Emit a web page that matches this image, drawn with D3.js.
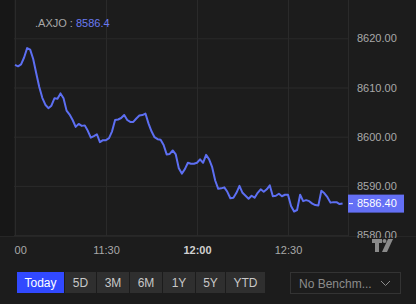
<!DOCTYPE html>
<html>
<head>
<meta charset="utf-8">
<script src="https://cdn.jsdelivr.net/npm/d3@7"></script>
<style>
  html, body { margin: 0; padding: 0; background: #1c1c1c; }
  svg { display: block; font-family: "Liberation Sans", Arial, sans-serif; }
</style>
</head>
<body>
<svg width="416" height="304"></svg>
<script>
// ASX 200 intraday, one point per minute
var times = [
  "11:00","11:01","11:02","11:03","11:04","11:05","11:06","11:07","11:08","11:09",
  "11:10","11:11","11:12","11:13","11:14","11:15","11:16","11:17","11:18","11:19",
  "11:20","11:21","11:22","11:23","11:24","11:25","11:26","11:27","11:28","11:29",
  "11:30","11:31","11:32","11:33","11:34","11:35","11:36","11:37","11:38","11:39",
  "11:40","11:41","11:42","11:43","11:44","11:45","11:46","11:47","11:48","11:49",
  "11:50","11:51","11:52","11:53","11:54","11:55","11:56","11:57","11:58","11:59",
  "12:00","12:01","12:02","12:03","12:04","12:05","12:06","12:07","12:08","12:09",
  "12:10","12:11","12:12","12:13","12:14","12:15","12:16","12:17","12:18","12:19",
  "12:20","12:21","12:22","12:23","12:24","12:25","12:26","12:27","12:28","12:29",
  "12:30","12:31","12:32","12:33","12:34","12:35","12:36","12:37","12:38","12:39",
  "12:40","12:41","12:42","12:43","12:44","12:45","12:46","12:47","12:48"
];

var values = [
  8614.6, 8614.3, 8614.7, 8616.1, 8618.0, 8617.7, 8615.8, 8612.9, 8610.1, 8607.9,
  8606.5, 8605.8, 8606.3, 8607.8, 8607.7, 8608.8, 8607.8, 8605.3, 8604.5, 8603.4,
  8602.0, 8602.6, 8602.2, 8602.3, 8601.2, 8599.8, 8600.1, 8600.5, 8598.9, 8599.3,
  8599.3, 8599.7, 8601.1, 8603.4, 8603.5, 8603.8, 8604.4, 8603.4, 8603.0, 8603.0,
  8603.7, 8604.3, 8604.4, 8604.7, 8602.7, 8601.1, 8599.9, 8599.5, 8599.4, 8598.3,
  8596.4, 8596.5, 8597.2, 8596.4, 8593.6, 8592.5, 8593.4, 8594.7, 8594.5, 8594.5,
  8594.7, 8595.4, 8594.7, 8596.3, 8595.4, 8593.8, 8591.1, 8589.4, 8589.5, 8589.7,
  8588.8, 8587.5, 8587.6, 8588.6, 8590.0, 8588.6, 8588.0, 8587.4, 8588.0, 8587.6,
  8588.6, 8589.3, 8588.8, 8589.3, 8590.1, 8587.9, 8588.0, 8588.4, 8587.9, 8588.2,
  8588.2, 8585.9, 8584.8, 8585.1, 8588.2, 8586.9, 8587.1, 8586.9, 8586.4, 8586.1,
  8586.0, 8589.0, 8588.5, 8587.7, 8586.6, 8586.7, 8586.7, 8586.3, 8586.4
];

var priceTicks = [8580, 8590, 8600, 8610, 8620];
var timeTicks = ["11:00", "11:30", "12:00", "12:30"];
var ranges = ["Today", "5D", "3M", "6M", "1Y", "5Y", "YTD"];
var symbol = ".AXJO";
var lastPrice = 8586.4;

var parse = d3.timeParse("%H:%M");
var fmtTime = d3.timeFormat("%H:%M");
var data = times.map(function(t, i) { return {t: parse(t), v: values[i]}; });

var svg = d3.select("svg");
var plot = {left: 14, right: 348, top: 0, bottom: 237};

var x = d3.scaleTime()
    .domain([parse("11:00"), parse("12:30")])
    .range([15, 288]);

var y = d3.scaleLinear()
    .domain([8580, 8620])
    .range([235.1, 38.3]);

var defs = svg.append("defs");
defs.append("clipPath").attr("id", "plotClip")
  .append("rect")
    .attr("x", plot.left).attr("y", plot.top)
    .attr("width", plot.right - plot.left).attr("height", plot.bottom - plot.top);
defs.append("clipPath").attr("id", "priceClip")
  .append("rect")
    .attr("x", plot.right).attr("y", 0)
    .attr("width", 416 - plot.right).attr("height", 238);
defs.append("clipPath").attr("id", "timeClip")
  .append("rect")
    .attr("x", plot.left).attr("y", plot.bottom)
    .attr("width", plot.right - plot.left).attr("height", 30);

// left strip
svg.append("rect")
    .attr("x", 0).attr("y", 0).attr("width", plot.left).attr("height", plot.bottom)
    .attr("fill", "#171717");

// grid
var grid = svg.append("g").attr("clip-path", "url(#plotClip)");
grid.append("g")
    .attr("transform", "translate(0," + plot.top + ")")
    .call(d3.axisBottom(x).tickValues(timeTicks.map(parse)).tickSize(plot.bottom - plot.top).tickFormat(""))
    .call(function(g) { g.select(".domain").remove(); })
    .selectAll("line").attr("stroke", "#2a2a2a");
grid.append("g")
    .attr("transform", "translate(" + plot.left + ",0)")
    .call(d3.axisRight(y).tickValues(priceTicks).tickSize(plot.right - plot.left).tickFormat(""))
    .call(function(g) { g.select(".domain").remove(); })
    .selectAll("line").attr("stroke", "#2a2a2a");

// borders
svg.append("line")
    .attr("x1", plot.right + 0.5).attr("x2", plot.right + 0.5)
    .attr("y1", 0).attr("y2", plot.bottom)
    .attr("stroke", "#2a2a2a");
svg.append("line")
    .attr("x1", 0).attr("x2", 416)
    .attr("y1", plot.bottom - 0.5).attr("y2", plot.bottom - 0.5)
    .attr("stroke", "#262626");

// price line
var line = d3.line()
    .x(function(d) { return x(d.t); })
    .y(function(d) { return y(d.v); });

grid.append("path")
    .datum(data)
    .attr("fill", "none")
    .attr("stroke", "#5d6ff2")
    .attr("stroke-width", 2)
    .attr("stroke-linejoin", "round")
    .attr("d", line);

// price axis
var yAxis = svg.append("g")
    .attr("clip-path", "url(#priceClip)")
    .append("g")
    .attr("transform", "translate(" + plot.right + ",0)")
    .call(d3.axisRight(y).tickValues(priceTicks).tickSize(0).tickPadding(9).tickFormat(d3.format(".2f")));
yAxis.select(".domain").remove();
yAxis.selectAll("text")
    .attr("fill", "#a9a9a9")
    .attr("font-size", 11)
    .attr("font-family", "Liberation Sans, Arial, sans-serif");

// last price label
var ly = y(lastPrice);
svg.append("rect")
    .attr("x", plot.right).attr("y", ly - 9)
    .attr("width", 56).attr("height", 18)
    .attr("fill", "#6470f5");
svg.append("line")
    .attr("x1", plot.right + 1).attr("x2", plot.right + 5)
    .attr("y1", ly).attr("y2", ly)
    .attr("stroke", "#ffffff").attr("stroke-width", 1);
svg.append("text")
    .attr("x", plot.right + 9).attr("y", ly)
    .attr("dy", "0.35em")
    .attr("fill", "#ffffff")
    .attr("font-size", 11)
    .text(d3.format(".2f")(lastPrice));

// time axis
var xAxis = svg.append("g")
    .attr("clip-path", "url(#timeClip)")
    .append("g")
    .attr("transform", "translate(0," + plot.bottom + ")")
    .call(d3.axisBottom(x).tickValues(timeTicks.map(parse)).tickSize(0).tickPadding(9).tickFormat(fmtTime));
xAxis.select(".domain").remove();
xAxis.selectAll("text")
    .attr("fill", function(d) { return fmtTime(d) === "12:00" ? "#d0d0d0" : "#a9a9a9"; })
    .attr("font-weight", function(d) { return fmtTime(d) === "12:00" ? "bold" : null; })
    .attr("dx", function(d, i) { return i === 0 ? -2 : 0; })
    .attr("font-size", 11)
    .attr("font-family", "Liberation Sans, Arial, sans-serif");

// legend
var legend = svg.append("text")
    .attr("x", 35).attr("y", 27)
    .attr("font-size", 11);
legend.append("tspan").attr("fill", "#a9a9a9").text(symbol + " : ");
legend.append("tspan").attr("fill", "#6b7bf2").text(d3.format(".1f")(lastPrice));

// tradingview logo
var logo = svg.append("g").attr("fill", "#8a8a8a").attr("transform", "translate(372,239)");
logo.append("path").attr("d", "M0,0H10V4H7V13H3V4H0Z");
logo.append("circle").attr("cx", 12.5).attr("cy", 2).attr("r", 2);
logo.append("path").attr("d", "M16,0H21L15,13H10Z");

// range buttons
var widths = {"Today": 48, "5D": 32, "3M": 33, "6M": 33, "1Y": 33, "5Y": 30, "YTD": 40};
var pos = 17;
var btn = svg.append("g").selectAll("g")
    .data(ranges)
    .enter().append("g")
    .attr("transform", function(d) { var p = pos; pos += widths[d]; return "translate(" + p + ",272)"; });
btn.append("rect")
    .attr("width", function(d) { return widths[d] - 1; })
    .attr("height", 21)
    .attr("fill", function(d, i) { return i === 0 ? "#3149ff" : "#2f2f2f"; });
btn.append("text")
    .attr("x", function(d) { return (widths[d] - 1) / 2; })
    .attr("y", 11)
    .attr("dy", "0.35em")
    .attr("text-anchor", "middle")
    .attr("font-size", 12)
    .attr("fill", function(d, i) { return i === 0 ? "#ffffff" : "#c8c8c8"; })
    .text(function(d) { return d; });

// benchmark dropdown
var dd = svg.append("g").attr("transform", "translate(290,272)");
dd.append("rect")
    .attr("x", 0.5).attr("y", 0.5).attr("width", 110).attr("height", 21)
    .attr("fill", "#1c1c1c").attr("stroke", "#333333");
dd.append("text")
    .attr("x", 9).attr("y", 11.5).attr("dy", "0.35em")
    .attr("font-size", 12).attr("fill", "#8c8c8c")
    .text("No Benchm...");
dd.append("path")
    .attr("d", "M91,9L95.5,13.5L100,9")
    .attr("fill", "none").attr("stroke", "#8c8c8c").attr("stroke-width", 1);
</script>
</body>
</html>
